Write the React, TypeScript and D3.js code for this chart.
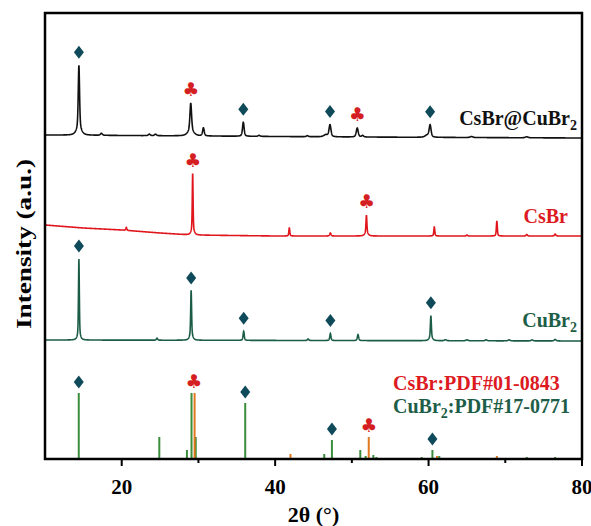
import React from 'react';
import * as d3 from 'd3';

const W = 591;
const H = 526;

const X_DOMAIN: [number, number] = [10, 80];
const X_TICKS = [20, 40, 60, 80];
const X_MINOR = [30, 50, 70];

// Continuous patterns: peaks [2θ, height, FWHM] on a background (anchor x / y)
const compositePeaks: [number, number, number][] = [
  [14.42, 64, 0.2], [14.42, 6, 0.8], [17.35, 2, 0.3], [23.6, 1.5, 0.3], [24.4, 1.5, 0.3],
  [29.0, 28, 0.25], [29.0, 5, 0.9], [30.65, 8, 0.25], [35.85, 14, 0.25], [37.9, 1, 0.3],
  [44.2, 1, 0.3], [46.6, 2, 0.6], [47.15, 12, 0.3], [50.7, 9, 0.3], [51.4, 1.5, 0.3],
  [59.8, 2, 0.6], [60.2, 12, 0.3], [65.6, 1, 0.4], [72.8, 1, 0.4],
];
const compositeBgX = [10, 30, 50, 80];
const compositeBgY = [324, 323, 322, 321];

const csbrPeaks: [number, number, number][] = [
  [20.6, 3, 0.15], [29.25, 58, 0.12], [29.25, 4, 0.5], [41.85, 8, 0.15], [47.2, 3, 0.2],
  [51.9, 18, 0.14], [51.9, 3, 0.5], [60.75, 9, 0.15], [65.0, 1, 0.2], [68.9, 15, 0.15],
  [72.8, 1.5, 0.2], [76.5, 2, 0.2],
];
const csbrBgX = [10, 15, 20, 25, 29, 40, 80];
const csbrBgY = [234, 231, 229, 226, 224, 223, 223];

const cubr2Peaks: [number, number, number][] = [
  [14.42, 78, 0.13], [14.42, 3, 0.5], [24.6, 2, 0.2], [29.05, 46, 0.14], [29.05, 4, 0.5],
  [35.9, 9, 0.18], [44.3, 1.5, 0.2], [47.2, 7, 0.18], [50.8, 6, 0.2], [60.3, 22, 0.15],
  [60.3, 3, 0.5], [62.2, 1, 0.3], [65.0, 1, 0.3], [67.5, 1, 0.3], [70.5, 1, 0.3],
  [73.5, 1, 0.3], [76.5, 1.5, 0.3],
];
const cubr2BgX = [10, 80];
const cubr2BgY = [119, 118];

// Reference patterns (sticks): [2θ, height]
const csbrPdf: [number, number][] = [
  [29.5, 66], [42.0, 5], [52.2, 22], [61.1, 3], [68.9, 3],
];
const cubr2Pdf: [number, number][] = [
  [14.4, 66], [24.9, 22], [28.5, 9], [29.1, 66], [29.65, 22], [36.1, 56], [39.0, 1],
  [46.4, 5], [47.4, 19], [51.1, 9], [51.8, 3], [52.8, 4], [53.2, 2], [59.1, 2],
  [60.5, 9], [61.4, 3], [72.8, 2], [76.5, 2],
];

// Phase markers: [series, 2θ, symbol]
const markers: [string, number, string][] = [
  ['composite', 14.42, 'd'], ['composite', 29.0, 'c'], ['composite', 35.85, 'd'],
  ['composite', 47.15, 'd'], ['composite', 50.7, 'c'], ['composite', 60.2, 'd'],
  ['csbr', 29.25, 'c'], ['csbr', 51.9, 'c'],
  ['cubr2', 14.42, 'd'], ['cubr2', 29.05, 'd'], ['cubr2', 35.9, 'd'], ['cubr2', 47.2, 'd'],
  ['cubr2', 60.3, 'd'],
  ['pdf', 14.4, 'd'], ['pdf', 29.4, 'c'], ['pdf', 36.1, 'd'], ['pdf', 47.4, 'd'],
  ['pdf', 52.2, 'c'], ['pdf', 60.5, 'd'],
];

const COLORS = {
  composite: '#111111',
  csbr: '#e0161c',
  cubr2: '#1b5c46',
  stickGreen: '#3a8d3a',
  stickOrange: '#e2781e',
  diamond: '#0f4a5a',
  club: '#d51e22',
  labelRed: '#dc1a1f',
  labelGreen: '#1e5e48',
};

const FONT = '"Liberation Serif", "Times New Roman", serif';

const margin = { left: 45, right: 582, top: 13, bottom: 459 };

function profile(x: number, peaks: [number, number, number][], bg: d3.ScaleLinear<number, number>) {
  let v = bg(x);
  for (const [c, h, w] of peaks) {
    const t = (x - c) / (w / 2);
    const L = 1 / (1 + t * t);
    const G = Math.exp(-Math.LN2 * t * t);
    v += h * (0.5 * L + 0.5 * G);
  }
  return v;
}

export default function App() {
  const x = d3.scaleLinear().domain(X_DOMAIN).range([margin.left, margin.right]);
  const y = d3.scaleLinear().domain([0, 446]).range([margin.bottom, margin.top]);

  const grid = d3.range(10, 80.0001, 0.02);
  const makeSeries = (peaks: [number, number, number][], bx: number[], by: number[]) => {
    const bg = d3.scaleLinear().domain(bx).range(by).clamp(true);
    return grid.map((g) => [g, profile(g, peaks, bg)] as [number, number]);
  };
  const series: Record<string, [number, number][]> = {
    composite: makeSeries(compositePeaks, compositeBgX, compositeBgY),
    csbr: makeSeries(csbrPeaks, csbrBgX, csbrBgY),
    cubr2: makeSeries(cubr2Peaks, cubr2BgX, cubr2BgY),
  };
  const line = d3.line<[number, number]>().x((d) => x(d[0])).y((d) => y(d[1]));

  const topAt = (name: string, xv: number) => {
    if (name === 'pdf') {
      const all = [...csbrPdf, ...cubr2Pdf].filter((s) => Math.abs(s[0] - xv) < 0.4);
      return d3.max(all, (s) => s[1]) ?? 0;
    }
    const pts = series[name].filter((p) => Math.abs(p[0] - xv) < 0.3);
    return d3.max(pts, (p) => p[1]) ?? 0;
  };

  const diamondPath = (cx: number, cy: number) =>
    `M${cx},${cy - 6.5}L${cx + 5},${cy}L${cx},${cy + 6.5}L${cx - 5},${cy}Z`;

  const seriesColor: Record<string, string> = {
    composite: COLORS.composite, csbr: COLORS.csbr, cubr2: COLORS.cubr2,
  };

  return (
    <svg width={W} height={H} style={{ position: 'absolute', left: 0, top: 0, background: '#fff' }}>
      {/* traces */}
      {Object.keys(series).map((k) => (
        <path key={k} d={line(series[k]) ?? ''} fill="none" stroke={seriesColor[k]} strokeWidth={1.6} />
      ))}
      {/* sticks */}
      {cubr2Pdf.map((s, i) => (
        <line key={'g' + i} x1={x(s[0])} x2={x(s[0])} y1={y(0)} y2={y(s[1])} stroke={COLORS.stickGreen} strokeWidth={2} />
      ))}
      {csbrPdf.map((s, i) => (
        <line key={'o' + i} x1={x(s[0])} x2={x(s[0])} y1={y(0)} y2={y(s[1])} stroke={COLORS.stickOrange} strokeWidth={2} />
      ))}
      {/* markers */}
      {markers.map(([name, xv, sym], i) => {
        const cx = x(xv);
        const top = y(topAt(name, xv));
        const cy = top - (name === 'pdf' ? 11 : 13);
        return sym === 'd' ? (
          <path key={'m' + i} d={diamondPath(cx, cy)} fill={COLORS.diamond} />
        ) : (
          <text key={'m' + i} x={cx} y={cy + 6} textAnchor="middle" fontSize={19}
            fontFamily='"DejaVu Sans", sans-serif' fill={COLORS.club}>♣</text>
        );
      })}
      {/* frame */}
      <rect x={margin.left} y={margin.top} width={margin.right - margin.left} height={margin.bottom - margin.top}
        fill="none" stroke="#000" strokeWidth={2.5} />
      {X_TICKS.map((t) => (
        <g key={'t' + t}>
          <line x1={x(t)} x2={x(t)} y1={y(0)} y2={y(0) + 7} stroke="#000" strokeWidth={2} />
          <text x={x(t)} y={494} textAnchor="middle" fontSize={21} fontWeight="bold" fontFamily={FONT}>{t}</text>
        </g>
      ))}
      {X_MINOR.map((t) => (
        <line key={'mt' + t} x1={x(t)} x2={x(t)} y1={y(0)} y2={y(0) + 4} stroke="#000" strokeWidth={2} />
      ))}
      <text x={(margin.left + margin.right) / 2} y={522} textAnchor="middle" fontSize={22} fontWeight="bold" fontFamily={FONT}>
        2θ (°)
      </text>
      <text transform="translate(31,244) rotate(-90)" textAnchor="middle" fontSize={22} fontWeight="bold"
        fontFamily={FONT} textLength={170} lengthAdjust="spacingAndGlyphs">Intensity (a.u.)</text>
      {/* series labels */}
      <text x={577} y={125} textAnchor="end" fontSize={20} fontWeight="bold" fontFamily={FONT} fill="#111">
        CsBr@CuBr<tspan fontSize={14} dy={5}>2</tspan>
      </text>
      <text x={568} y={223} textAnchor="end" fontSize={20} fontWeight="bold" fontFamily={FONT} fill={COLORS.labelRed}>
        CsBr
      </text>
      <text x={577} y={327} textAnchor="end" fontSize={20} fontWeight="bold" fontFamily={FONT} fill={COLORS.labelGreen}>
        CuBr<tspan fontSize={14} dy={5}>2</tspan>
      </text>
      <text x={393} y={390} fontSize={20} fontWeight="bold" fontFamily={FONT} fill={COLORS.labelRed}>
        CsBr:PDF#01-0843
      </text>
      <text x={393} y={413} fontSize={20} fontWeight="bold" fontFamily={FONT} fill={COLORS.labelGreen}>
        CuBr<tspan fontSize={14} dy={5}>2</tspan><tspan dy={-5}>:PDF#17-0771</tspan>
      </text>
    </svg>
  );
}
